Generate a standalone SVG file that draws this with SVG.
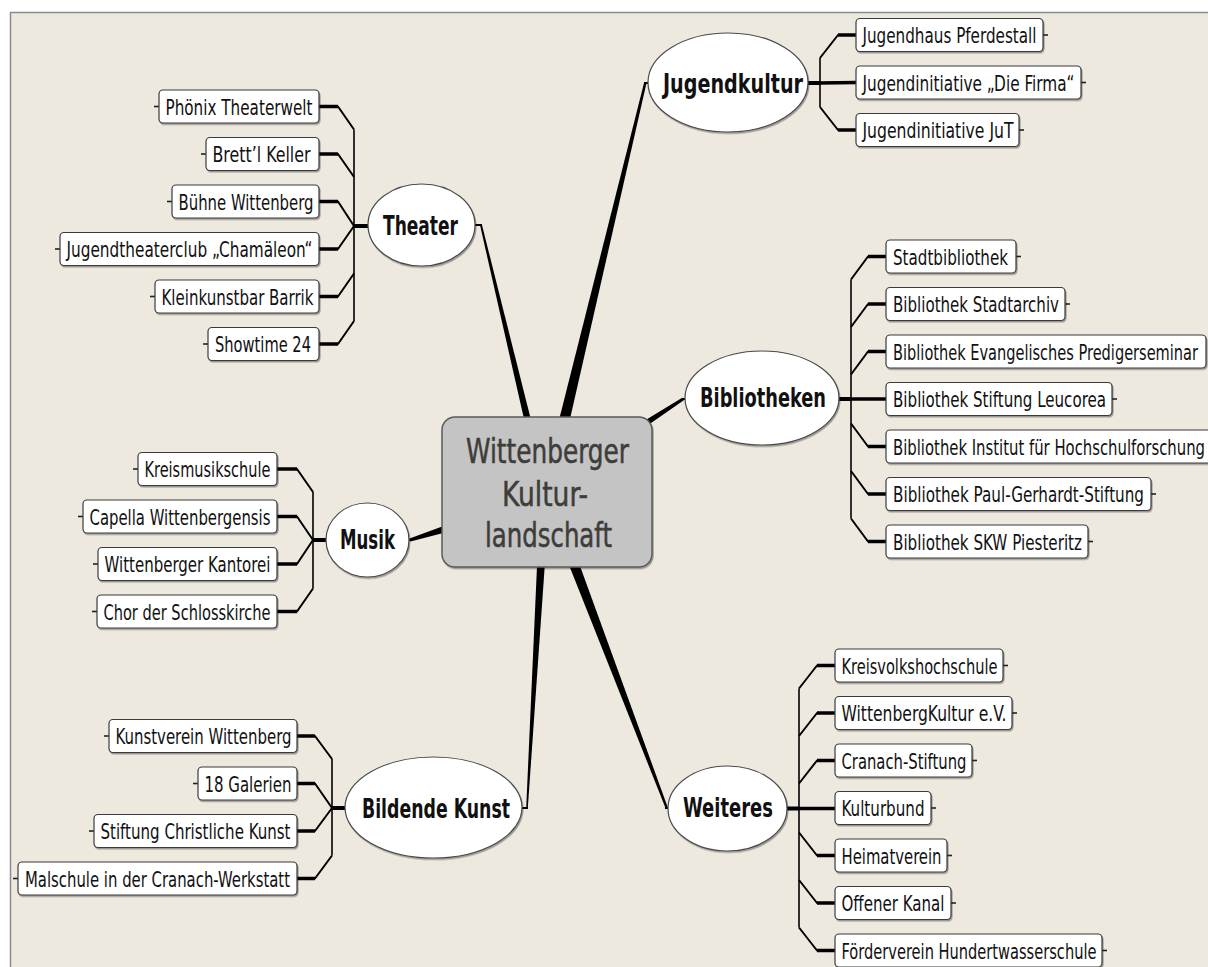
<svg xmlns="http://www.w3.org/2000/svg" width="1208" height="967" viewBox="0 0 1208 967">
<defs>
<filter id="sh" x="-10%" y="-20%" width="125%" height="150%"><feDropShadow dx="1" dy="1.5" stdDeviation="0.7" flood-color="#000" flood-opacity="0.35"/></filter>
<style>
.bg{fill:#EDE9DF;stroke:#8c8c8c;stroke-width:1.5}
.lf{fill:#fff;stroke:#3a3a3a;stroke-width:1.2;filter:url(#sh)}
.el{fill:#fff;stroke:#4a4a4a;stroke-width:1.2;filter:url(#sh)}
.ctr{fill:#C4C4C4;stroke:#5a5a5a;stroke-width:1.5;filter:url(#sh)}
.tx{font-family:"DejaVu Sans Condensed","DejaVu Sans",sans-serif;font-size:21px;fill:#111}
.bt{font-family:"DejaVu Sans Condensed","DejaVu Sans",sans-serif;font-size:27px;font-weight:bold;fill:#111}
.ct{font-family:"DejaVu Sans Condensed","DejaVu Sans",sans-serif;font-size:33px;fill:#3d3d3a;stroke:#3d3d3a;stroke-width:0.5}
.tp{fill:#000}
.h{stroke:#000;stroke-width:3.5;fill:none}
.d{stroke:#000;stroke-width:2;fill:none;stroke-linejoin:round}
.bus{stroke:#000;stroke-width:1.6;fill:none}
.j{stroke:#000;stroke-width:4;fill:none}
.tk{stroke:#222;stroke-width:1.6}
</style>
</defs>
<rect class="bg" x="10.5" y="12.5" width="1210" height="970"/>
<g id="connectors">
<polygon class="tp" points="526.5,430 533.5,430 482,225 480,225"/>
<line class="d" x1="475" y1="225" x2="482" y2="225"/>
<polygon class="tp" points="556.5,430 567.5,430 646.5,83 644,83"/>
<line class="d" x1="644" y1="83" x2="650" y2="83"/>
<polygon class="tp" points="641.7,429.5 683.8,400.2 682.2,397.8 638.3,424.5"/>
<line class="d" x1="682" y1="399" x2="687" y2="399"/>
<polygon class="tp" points="451,531 410.5,541.4 409.5,538.6 449,524"/>
<line class="d" x1="406" y1="540" x2="411" y2="540"/>
<polygon class="tp" points="537.5,555 545.5,555 527.8,808 526.2,808"/>
<line class="d" x1="521" y1="808" x2="528" y2="808"/>
<polygon class="tp" points="565,555 576,555 668,808 665.5,808"/>
<line class="d" x1="665" y1="808" x2="671" y2="808"/>

<line class="bus" x1="354" y1="129.5" x2="354" y2="321"/>
<line class="j" x1="354" y1="226" x2="370" y2="226"/>
<path class="d" d="M319,106.5 H338 L354,129.5"/><line class="h" x1="319" y1="106.5" x2="338" y2="106.5"/>
<path class="d" d="M319,154 H338 L354,177"/><line class="h" x1="319" y1="154" x2="338" y2="154"/>
<path class="d" d="M319,201.5 H338 L354,226"/><line class="h" x1="319" y1="201.5" x2="338" y2="201.5"/>
<path class="d" d="M319,249 H338 L354,226"/><line class="h" x1="319" y1="249" x2="338" y2="249"/>
<path class="d" d="M319,296.5 H338 L354,273.5"/><line class="h" x1="319" y1="296.5" x2="338" y2="296.5"/>
<path class="d" d="M319,344 H338 L354,321"/><line class="h" x1="319" y1="344" x2="338" y2="344"/>

<line class="bus" x1="820" y1="58" x2="820" y2="107"/>
<line class="j" x1="806" y1="83" x2="820" y2="83"/>
<path class="d" d="M820,58 L838,35 H856"/><line class="h" x1="838" y1="35" x2="856" y2="35"/>
<path class="d" d="M820,83 L838,82.5 H856"/><line class="h" x1="820" y1="83" x2="856" y2="82.5"/>
<path class="d" d="M820,107 L838,130 H856"/><line class="h" x1="838" y1="130" x2="856" y2="130"/>

<line class="bus" x1="851" y1="279.5" x2="851" y2="518.5"/>
<line class="j" x1="837" y1="399" x2="851" y2="399"/>
<path class="d" d="M851,279.5 L868,256.5 H886"/><line class="h" x1="868" y1="256.5" x2="886" y2="256.5"/>
<path class="d" d="M851,327 L868,304 H886"/><line class="h" x1="868" y1="304" x2="886" y2="304"/>
<path class="d" d="M851,374.5 L868,351.5 H886"/><line class="h" x1="868" y1="351.5" x2="886" y2="351.5"/>
<path class="d" d="M851,399 H886"/><line class="h" x1="851" y1="399" x2="886" y2="399"/>
<path class="d" d="M851,423.5 L868,446.5 H886"/><line class="h" x1="868" y1="446.5" x2="886" y2="446.5"/>
<path class="d" d="M851,471 L868,494 H886"/><line class="h" x1="868" y1="494" x2="886" y2="494"/>
<path class="d" d="M851,518.5 L868,541.5 H886"/><line class="h" x1="868" y1="541.5" x2="886" y2="541.5"/>

<line class="bus" x1="313" y1="492" x2="313" y2="588.5"/>
<line class="j" x1="313" y1="540" x2="327" y2="540"/>
<path class="d" d="M277,469 H297 L313,492"/><line class="h" x1="277" y1="469" x2="297" y2="469"/>
<path class="d" d="M277,516.5 H297 L313,540"/><line class="h" x1="277" y1="516.5" x2="297" y2="516.5"/>
<path class="d" d="M277,564 H297 L313,540"/><line class="h" x1="277" y1="564" x2="297" y2="564"/>
<path class="d" d="M277,611.5 H297 L313,588.5"/><line class="h" x1="277" y1="611.5" x2="297" y2="611.5"/>

<line class="bus" x1="332" y1="759" x2="332" y2="855.5"/>
<line class="j" x1="332" y1="808" x2="346" y2="808"/>
<path class="d" d="M297,736 H315 L332,759"/><line class="h" x1="297" y1="736" x2="315" y2="736"/>
<path class="d" d="M297,783.5 H315 L332,808"/><line class="h" x1="297" y1="783.5" x2="315" y2="783.5"/>
<path class="d" d="M297,831 H315 L332,808"/><line class="h" x1="297" y1="831" x2="315" y2="831"/>
<path class="d" d="M297,878.5 H315 L332,855.5"/><line class="h" x1="297" y1="878.5" x2="315" y2="878.5"/>

<line class="bus" x1="799" y1="688.5" x2="799" y2="927.5"/>
<line class="j" x1="786" y1="808.5" x2="799" y2="808.5"/>
<path class="d" d="M799,688.5 L817,665.5 H835"/><line class="h" x1="817" y1="665.5" x2="835" y2="665.5"/>
<path class="d" d="M799,736 L817,713 H835"/><line class="h" x1="817" y1="713" x2="835" y2="713"/>
<path class="d" d="M799,783.5 L817,760.5 H835"/><line class="h" x1="817" y1="760.5" x2="835" y2="760.5"/>
<path class="d" d="M799,808.5 H835"/><line class="h" x1="799" y1="808.5" x2="835" y2="808.5"/>
<path class="d" d="M799,832.5 L817,855.5 H835"/><line class="h" x1="817" y1="855.5" x2="835" y2="855.5"/>
<path class="d" d="M799,880 L817,903 H835"/><line class="h" x1="817" y1="903" x2="835" y2="903"/>
<path class="d" d="M799,927.5 L817,950.5 H835"/><line class="h" x1="817" y1="950.5" x2="835" y2="950.5"/>
</g>

<g id="center">
<rect class="ctr" x="442" y="417" width="210" height="150" rx="13"/>
<text class="ct" x="466" y="463" textLength="163" lengthAdjust="spacingAndGlyphs">Wittenberger</text>
<text class="ct" x="502" y="506" textLength="86" lengthAdjust="spacingAndGlyphs">Kultur-</text>
<text class="ct" x="485" y="547" textLength="127" lengthAdjust="spacingAndGlyphs">landschaft</text>
</g>

<g id="theater"><ellipse class="el" cx="421.5" cy="225" rx="53.5" ry="41"/><text class="bt" x="383" y="235" textLength="75" lengthAdjust="spacingAndGlyphs">Theater</text></g>
<g id="jugendkultur"><ellipse class="el" cx="728" cy="82.5" rx="80" ry="49.5"/><text class="bt" x="663" y="93" textLength="140" lengthAdjust="spacingAndGlyphs">Jugendkultur</text></g>
<g id="bibliotheken"><ellipse class="el" cx="762" cy="398" rx="77" ry="47"/><text class="bt" x="700" y="407" textLength="126" lengthAdjust="spacingAndGlyphs">Bibliotheken</text></g>
<g id="musik"><ellipse class="el" cx="367.5" cy="540" rx="41.5" ry="37"/><text class="bt" x="340" y="549" textLength="55" lengthAdjust="spacingAndGlyphs">Musik</text></g>
<g id="bildende-kunst"><ellipse class="el" cx="433.5" cy="807.5" rx="88.5" ry="50.5"/><text class="bt" x="362" y="818" textLength="148" lengthAdjust="spacingAndGlyphs">Bildende Kunst</text></g>
<g id="weiteres"><ellipse class="el" cx="727.5" cy="808.5" rx="59.5" ry="42.5"/><text class="bt" x="683" y="817" textLength="90" lengthAdjust="spacingAndGlyphs">Weiteres</text></g>

<g id="t1"><line class="tk" x1="154" y1="106.5" x2="159" y2="106.5"/><rect class="lf" x="159" y="90" width="160" height="33" rx="4"/><text class="tx" x="165.5" y="114.5" textLength="147" lengthAdjust="spacingAndGlyphs">Phönix Theaterwelt</text></g>
<g id="t2"><line class="tk" x1="201" y1="154" x2="206" y2="154"/><rect class="lf" x="206" y="137.5" width="113" height="33" rx="4"/><text class="tx" x="212.5" y="162" textLength="98" lengthAdjust="spacingAndGlyphs">Brett’l Keller</text></g>
<g id="t3"><line class="tk" x1="167" y1="201.5" x2="172" y2="201.5"/><rect class="lf" x="172" y="185" width="147" height="33" rx="4"/><text class="tx" x="178.5" y="209.5" textLength="135" lengthAdjust="spacingAndGlyphs">Bühne Wittenberg</text></g>
<g id="t4"><line class="tk" x1="55" y1="249" x2="60" y2="249"/><rect class="lf" x="60" y="232.5" width="259" height="33" rx="4"/><text class="tx" x="66.5" y="257" textLength="246" lengthAdjust="spacingAndGlyphs">Jugendtheaterclub „Chamäleon“</text></g>
<g id="t5"><line class="tk" x1="150" y1="296.5" x2="155" y2="296.5"/><rect class="lf" x="155" y="280" width="164" height="33" rx="4"/><text class="tx" x="161.5" y="304.5" textLength="152" lengthAdjust="spacingAndGlyphs">Kleinkunstbar Barrik</text></g>
<g id="t6"><line class="tk" x1="203" y1="344" x2="208" y2="344"/><rect class="lf" x="208" y="327.5" width="111" height="33" rx="4"/><text class="tx" x="215" y="352" textLength="96" lengthAdjust="spacingAndGlyphs">Showtime 24</text></g>

<g id="j1"><line class="tk" x1="1043" y1="35" x2="1048" y2="35"/><rect class="lf" x="856" y="18.5" width="187" height="33" rx="4"/><text class="tx" x="862.5" y="43" textLength="174" lengthAdjust="spacingAndGlyphs">Jugendhaus Pferdestall</text></g>
<g id="j2"><line class="tk" x1="1081" y1="82.5" x2="1086" y2="82.5"/><rect class="lf" x="856" y="66" width="225" height="33" rx="4"/><text class="tx" x="862.5" y="90.5" textLength="212" lengthAdjust="spacingAndGlyphs">Jugendinitiative „Die Firma“</text></g>
<g id="j3"><line class="tk" x1="1019" y1="130" x2="1024" y2="130"/><rect class="lf" x="856" y="113.5" width="163" height="33" rx="4"/><text class="tx" x="862.5" y="138" textLength="151" lengthAdjust="spacingAndGlyphs">Jugendinitiative JuT</text></g>

<g id="b1"><line class="tk" x1="1016" y1="256.5" x2="1021" y2="256.5"/><rect class="lf" x="886" y="240" width="130" height="33" rx="4"/><text class="tx" x="893" y="264.5" textLength="115" lengthAdjust="spacingAndGlyphs">Stadtbibliothek</text></g>
<g id="b2"><line class="tk" x1="1065" y1="304" x2="1070" y2="304"/><rect class="lf" x="886" y="287.5" width="179" height="33" rx="4"/><text class="tx" x="893" y="312" textLength="166" lengthAdjust="spacingAndGlyphs">Bibliothek Stadtarchiv</text></g>
<g id="b3"><rect class="lf" x="886" y="335" width="320" height="33" rx="4"/><text class="tx" x="893" y="359.5" textLength="305" lengthAdjust="spacingAndGlyphs">Bibliothek Evangelisches Predigerseminar</text></g>
<g id="b4"><line class="tk" x1="1112" y1="399" x2="1117" y2="399"/><rect class="lf" x="886" y="382.5" width="226" height="33" rx="4"/><text class="tx" x="893" y="407" textLength="213" lengthAdjust="spacingAndGlyphs">Bibliothek Stiftung Leucorea</text></g>
<g id="b5"><rect class="lf" x="886" y="430" width="331" height="33" rx="4"/><text class="tx" x="893" y="454.5" textLength="312" lengthAdjust="spacingAndGlyphs">Bibliothek Institut für Hochschulforschung</text></g>
<g id="b6"><line class="tk" x1="1151" y1="494" x2="1156" y2="494"/><rect class="lf" x="886" y="477.5" width="265" height="33" rx="4"/><text class="tx" x="893" y="502" textLength="251" lengthAdjust="spacingAndGlyphs">Bibliothek Paul-Gerhardt-Stiftung</text></g>
<g id="b7"><line class="tk" x1="1088" y1="541.5" x2="1093" y2="541.5"/><rect class="lf" x="886" y="525" width="202" height="33" rx="4"/><text class="tx" x="893" y="549.5" textLength="189" lengthAdjust="spacingAndGlyphs">Bibliothek SKW Piesteritz</text></g>

<g id="m1"><line class="tk" x1="133" y1="469" x2="138" y2="469"/><rect class="lf" x="138" y="452.5" width="139" height="33" rx="4"/><text class="tx" x="144.5" y="477" textLength="126" lengthAdjust="spacingAndGlyphs">Kreismusikschule</text></g>
<g id="m2"><line class="tk" x1="78" y1="516.5" x2="83" y2="516.5"/><rect class="lf" x="83" y="500" width="194" height="33" rx="4"/><text class="tx" x="89.5" y="524.5" textLength="181" lengthAdjust="spacingAndGlyphs">Capella Wittenbergensis</text></g>
<g id="m3"><line class="tk" x1="93" y1="564" x2="98" y2="564"/><rect class="lf" x="98" y="547.5" width="179" height="33" rx="4"/><text class="tx" x="104.5" y="572" textLength="166" lengthAdjust="spacingAndGlyphs">Wittenberger Kantorei</text></g>
<g id="m4"><line class="tk" x1="92" y1="611.5" x2="97" y2="611.5"/><rect class="lf" x="97" y="595" width="180" height="33" rx="4"/><text class="tx" x="103.5" y="619.5" textLength="167" lengthAdjust="spacingAndGlyphs">Chor der Schlosskirche</text></g>

<g id="k1"><line class="tk" x1="104" y1="736" x2="109" y2="736"/><rect class="lf" x="109" y="719.5" width="188" height="33" rx="4"/><text class="tx" x="115.5" y="744" textLength="176" lengthAdjust="spacingAndGlyphs">Kunstverein Wittenberg</text></g>
<g id="k2"><line class="tk" x1="193" y1="783.5" x2="198" y2="783.5"/><rect class="lf" x="198" y="767" width="99" height="33" rx="4"/><text class="tx" x="204.5" y="791.5" textLength="87" lengthAdjust="spacingAndGlyphs">18 Galerien</text></g>
<g id="k3"><line class="tk" x1="89" y1="831" x2="94" y2="831"/><rect class="lf" x="94" y="814.5" width="203" height="33" rx="4"/><text class="tx" x="100.5" y="839" textLength="190" lengthAdjust="spacingAndGlyphs">Stiftung Christliche Kunst</text></g>
<g id="k4"><line class="tk" x1="13" y1="878.5" x2="18" y2="878.5"/><rect class="lf" x="18" y="862" width="279" height="33" rx="4"/><text class="tx" x="25" y="886.5" textLength="265" lengthAdjust="spacingAndGlyphs">Malschule in der Cranach-Werkstatt</text></g>

<g id="w1"><line class="tk" x1="1003" y1="665.5" x2="1008" y2="665.5"/><rect class="lf" x="835" y="649" width="168" height="33" rx="4"/><text class="tx" x="841.5" y="673.5" textLength="156" lengthAdjust="spacingAndGlyphs">Kreisvolkshochschule</text></g>
<g id="w2"><line class="tk" x1="1012" y1="713" x2="1017" y2="713"/><rect class="lf" x="835" y="696.5" width="177" height="33" rx="4"/><text class="tx" x="841.5" y="721" textLength="165" lengthAdjust="spacingAndGlyphs">WittenbergKultur e.V.</text></g>
<g id="w3"><line class="tk" x1="972" y1="760.5" x2="977" y2="760.5"/><rect class="lf" x="835" y="744" width="137" height="33" rx="4"/><text class="tx" x="841.5" y="768.5" textLength="125" lengthAdjust="spacingAndGlyphs">Cranach-Stiftung</text></g>
<g id="w4"><line class="tk" x1="931" y1="808" x2="936" y2="808"/><rect class="lf" x="835" y="791.5" width="96" height="33" rx="4"/><text class="tx" x="841.5" y="816" textLength="83" lengthAdjust="spacingAndGlyphs">Kulturbund</text></g>
<g id="w5"><line class="tk" x1="947" y1="855.5" x2="952" y2="855.5"/><rect class="lf" x="835" y="839" width="112" height="33" rx="4"/><text class="tx" x="841.5" y="863.5" textLength="100" lengthAdjust="spacingAndGlyphs">Heimatverein</text></g>
<g id="w6"><line class="tk" x1="951" y1="903" x2="956" y2="903"/><rect class="lf" x="835" y="886.5" width="116" height="33" rx="4"/><text class="tx" x="841.5" y="911" textLength="103" lengthAdjust="spacingAndGlyphs">Offener Kanal</text></g>
<g id="w7"><line class="tk" x1="1102" y1="950.5" x2="1107" y2="950.5"/><rect class="lf" x="835" y="934" width="267" height="33" rx="4"/><text class="tx" x="841.5" y="958.5" textLength="255" lengthAdjust="spacingAndGlyphs">Förderverein Hundertwasserschule</text></g>
</svg>
